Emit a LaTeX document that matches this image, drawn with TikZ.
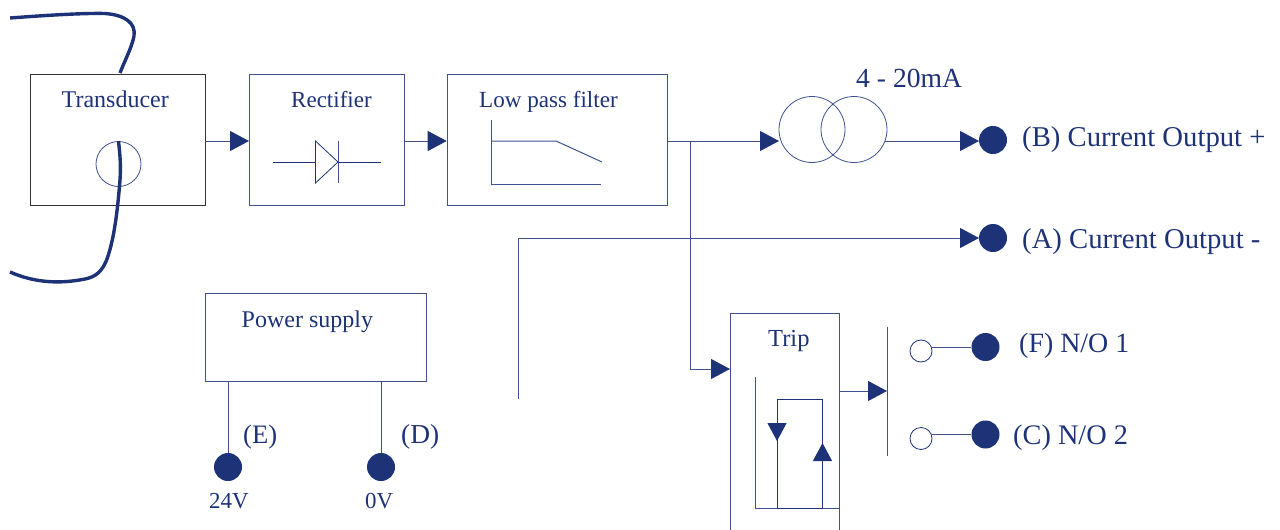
\documentclass[tikz,border=0pt]{standalone}
\usepackage{fontspec}
\setmainfont{Liberation Serif}
\usetikzlibrary{arrows.meta}
\definecolor{navy}{HTML}{1D3277}
\definecolor{navyl}{HTML}{3F5190}
\tikzset{
  wire/.style={draw=navyl,line width=1pt},
  sig/.style={wire,-{Triangle[length=19pt,width=20pt,color=navy]},shorten >=0pt},
  smallsig/.style={wire,-{Triangle[length=18pt,width=19pt,color=navy]}},
  cable/.style={draw=navy,line width=3.4pt,line cap=butt},
  block/.style={draw=navyl,line width=1pt,inner sep=0pt,anchor=north west},
  dot/.style={circle,fill=navy,draw=none,minimum size=28pt,inner sep=0pt},
  opendot/.style={circle,draw=navy,fill=white,line width=.8pt,minimum size=22pt,inner sep=0pt},
  lbl/.style={text=navy,anchor=base west,inner sep=0pt,font=\fontsize{23.6}{26}\selectfont},
  biglbl/.style={lbl,font=\fontsize{27.6}{30}\selectfont},
  vlbl/.style={lbl,font=\fontsize{22.9}{25}\selectfont}
}
\begin{document}
\begin{tikzpicture}[x=1pt,y=-1pt]
\useasboundingbox (0,0) rectangle (1280,530);
% blocks
\node[block,draw=black!80,minimum width=175pt,minimum height=131pt] (trans) at (29.7,73.7) {};
\node[block,minimum width=155pt,minimum height=131pt] (rect) at (249,73.7) {};
\node[block,minimum width=220pt,minimum height=131pt] (lpf) at (446.7,73.7) {};
\node[block,minimum width=220.5pt,minimum height=88pt] (psu) at (205,293) {};
% block labels
\node[lbl,font=\fontsize{24}{26}\selectfont] (ttrans) at (61.5,107) {Transducer};
\node[lbl,font=\fontsize{23}{26}\selectfont] (trect) at (291,107) {Rectifier};
\node[lbl,font=\fontsize{23.1}{26}\selectfont] (tlpf) at (479,107.5) {Low pass filter};
\node[lbl,font=\fontsize{24}{26}\selectfont] (tpsu) at (241.5,327.5) {Power supply};
\node[lbl,font=\fontsize{24.5}{26}\selectfont] (ttrip) at (768,346.5) {Trip};
% transducer coil and cable
\node[circle,draw=navyl,line width=.8pt,minimum size=45pt,inner sep=0pt] (coil) at (118.5,164) {};
\coordinate (cabA) at (10,18);
\coordinate (cabB) at (10,272);
\draw[cable] (cabA) .. controls (50,15) and (85,13) .. (105,13.5)
  .. controls (125,15) and (136,23) .. (134,36)
  .. controls (132,47) and (125,60) .. (120,73);
\draw[cable] (coil.north) .. controls (120,155) and (121,165) .. (120,180)
  .. controls (118,205) and (115,235) .. (108,256)
  .. controls (103,272) and (95,277) .. (85,279)
  .. controls (60,284) and (35,283) .. (cabB);
% diode
\coordinate (dL) at (273,162);
\coordinate (dA) at (315.5,162);
\coordinate (dK) at (338,162);
\coordinate (dR) at (381,162);
\draw[wire,draw=navy,line width=.8pt] (dL) -- (dA) (dK) -- (dR);
\draw[wire,draw=navy,line width=.8pt] (315.5,141) -- (dK) -- (315.5,183) -- cycle;
\draw[wire,line width=.9pt] (338,141) -- (338,183);
% filter curve
\coordinate (fA) at (491,120);
\coordinate (fO) at (491,184);
\coordinate (fB) at (601,184);
\coordinate (fC) at (491,141);
\coordinate (fD) at (556,141);
\coordinate (fE) at (602,162);
\draw[wire] (fA) -- (fO) -- (fB);
\draw[wire] (fC) -- (fD) -- (fE);
% transformer
\node[circle,draw=navyl,line width=.8pt,minimum size=66pt,inner sep=0pt] (t1) at (812,129.5) {};
\node[circle,draw=navyl,line width=.8pt,minimum size=66pt,inner sep=0pt] (t2) at (854,129.5) {};
\node[biglbl] (t4) at (856,87) {4 - 20mA};
\coordinate (t1in) at (779,141);
\coordinate (t2out) at (885,141);
% terminals
\node[dot] (B) at (993,140) {};
\node[dot] (A) at (993,238) {};
\node[biglbl,font=\fontsize{28.7}{30}\selectfont] (tB) at (1022,146) {(B) Current Output +};
\node[biglbl,font=\fontsize{28.7}{30}\selectfont] (tA) at (1022,248) {(A) Current Output -};
% signal arrows
\coordinate (transR) at (205,141);
\coordinate (rectL) at (249,141);
\coordinate (rectR) at (404,141);
\coordinate (lpfL) at (446.7,141);
\coordinate (lpfR) at (667,141);
\coordinate (j1) at (690,141);
\coordinate (j2) at (690,369);
\coordinate (tripL) at (730,369);
\coordinate (bOut) at (979,141);
\coordinate (aOut) at (979,238);
\coordinate (aL) at (518,238);
\coordinate (aB) at (518,399);
\draw[sig] (transR) -- (rectL);
\draw[sig] (rectR) -- (lpfL);
\draw[sig] (lpfR) -- (t1in);
\draw[sig] (t2out) -- (bOut);
\draw[sig] (aB) -- (aL) -- (aOut);
\draw[sig] (j1) -- (j2) -- (tripL);
% trip block
\coordinate (tripTL) at (730,313);
\coordinate (tripTR) at (839,313);
\coordinate (tripBL) at (730,530);
\coordinate (tripBR) at (839,530);
\draw[wire] (tripBL) -- (tripTL) -- (tripTR) -- (tripBR);
\coordinate (inA) at (755,377);
\coordinate (inB) at (755,508.5);
\coordinate (inC) at (839,508.5);
\draw[wire] (inA) -- (inB) -- (inC);
\coordinate (lpA) at (777,508.5);
\coordinate (lpB) at (777,399.5);
\coordinate (lpC) at (822.5,399.5);
\coordinate (lpD) at (822.5,508.5);
\coordinate (lpDown) at (777,441);
\coordinate (lpUp) at (822.5,443);
\draw[wire,draw=navy] (lpA) -- (lpB) -- (lpC) -- (lpD) -- cycle;
\draw[smallsig,draw=navy] (lpB) -- (lpDown);
\draw[smallsig,draw=navy] (lpD) -- (lpUp);
\coordinate (tripR) at (839,391);
\coordinate (swM) at (887,391);
\coordinate (swT) at (887,327);
\coordinate (swB) at (887,456);
\draw[sig] (tripR) -- (swM);
\draw[wire] (swT) -- (swB);
% contacts
\node[opendot] (of) at (921,351) {};
\node[opendot] (oc) at (921,438.5) {};
\node[dot] (F) at (985.5,347) {};
\node[dot] (C) at (985.5,434.5) {};
\coordinate (ofR) at (932,347);
\coordinate (ocR) at (932,434.5);
\draw[wire] (ofR) -- (F);
\draw[wire] (ocR) -- (C);
\node[biglbl,font=\fontsize{27.9}{30}\selectfont] (tF) at (1019,352) {(F) N/O 1};
\node[biglbl,font=\fontsize{28.3}{30}\selectfont] (tC) at (1013,444) {(C) N/O 2};
% power supply terminals
\node[dot] (E) at (228,467) {};
\node[dot] (D) at (381,467) {};
\coordinate (psE) at (228,381);
\coordinate (psD) at (381,381);
\draw[wire] (psE) -- (E);
\draw[wire] (psD) -- (D);
\node[biglbl,font=\fontsize{26.6}{30}\selectfont] (tE) at (243,443) {(E)};
\node[biglbl,font=\fontsize{27.4}{30}\selectfont] (tD) at (401,443) {(D)};
\node[vlbl] (t24) at (209,508) {24V};
\node[vlbl] (t0) at (365,508) {0V};
\end{tikzpicture}
\end{document}
